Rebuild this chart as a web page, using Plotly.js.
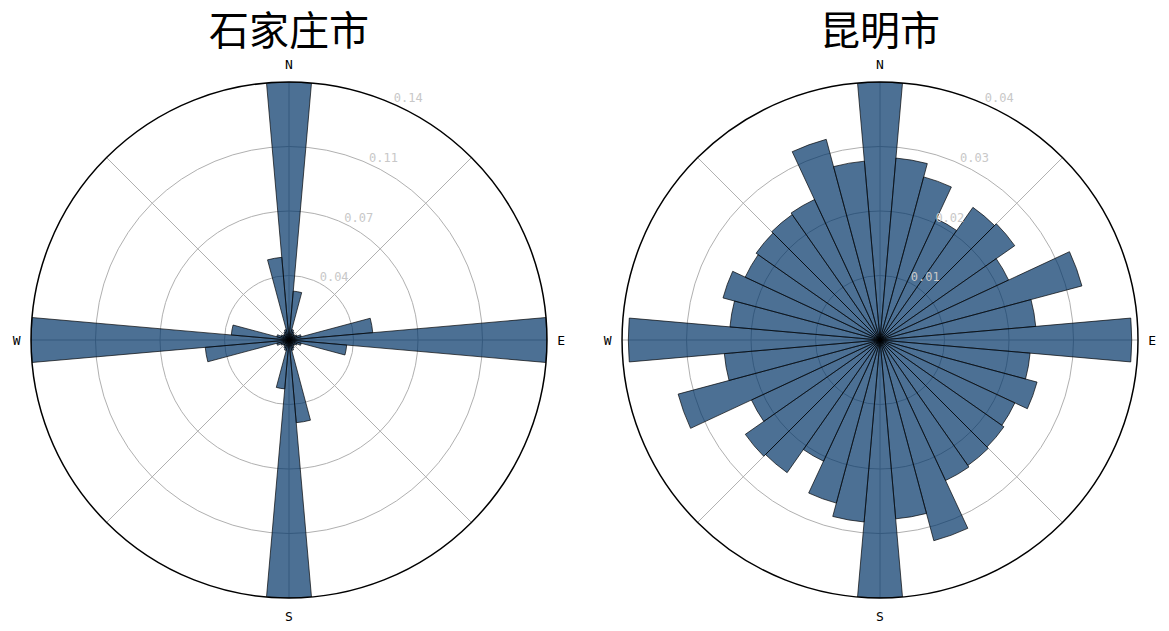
<!DOCTYPE html>
<html>
<head>
<meta charset="utf-8">
<script src="https://cdn.plot.ly/plotly-3.0.1.min.js"></script>
<style>html,body{margin:0;padding:0;background:#fff;}#chart{width:1169px;height:631px;}</style>
</head>
<body>
<div id="chart"></div>
<script>
// Bin centres (degrees, compass bearings)
const bearings = [0,10,20,30,40,50,60,70,80,90,100,110,120,130,140,150,160,170,
                  180,190,200,210,220,230,240,250,260,270,280,290,300,310,320,330,340,350];

// 石家庄市 street-orientation frequencies
const shijiazhuang = [0.143,0.0272,0.006,0.005,0.004,0.004,0.005,0.007,0.0466,
                      0.143,0.0321,0.007,0.005,0.004,0.004,0.005,0.006,0.046,
                      0.143,0.0272,0.006,0.005,0.004,0.004,0.005,0.007,0.0466,
                      0.143,0.0321,0.007,0.005,0.004,0.004,0.005,0.006,0.046];

// 昆明市 street-orientation frequencies
const kunming = [0.0411,0.0291,0.0269,0.0213,0.0258,0.0262,0.0226,0.0333,0.0249,
                 0.0401,0.0240,0.0259,0.0237,0.0241,0.0244,0.0247,0.0331,0.0286,
                 0.0411,0.0291,0.0269,0.0213,0.0258,0.0262,0.0226,0.0333,0.0249,
                 0.0401,0.0240,0.0259,0.0237,0.0241,0.0244,0.0247,0.0331,0.0286];

const cityNames = ['石家庄市', '昆明市'];
const compassVals = [0,45,90,135,180,225,270,315];
const compassText = ['N','','E','','S','','W',''];

function radialTicks(vals) {
  const mx = Math.max(...vals);
  const tv = [1,2,3,4].map(k => mx * k / 4);
  // trailing blank line lifts each label slightly above its ring
  return {max: mx, tv: tv, tt: tv.map(v => v.toFixed(2) + '<br>\u00a0')};
}

function polarLayout(vals, domX) {
  const t = radialTicks(vals);
  return {
    domain: {x: domX, y: [0.0523, 0.8700]},
    bgcolor: '#ffffff',
    hole: 0,
    radialaxis: {
      range: [0, t.max],
      tickvals: t.tv,
      ticktext: t.tt,
      angle: 67.5,
      tickangle: 67.5,
      side: 'clockwise',
      showline: false,
      ticks: '',
      gridcolor: '#b0b0b0',
      gridwidth: 1,
      tickfont: {family: 'DejaVu Sans Mono', size: 12, color: '#c8c8c8'}
    },
    angularaxis: {
      rotation: 90,
      direction: 'clockwise',
      tickmode: 'array',
      tickvals: compassVals,
      ticktext: compassText,
      ticks: 'outside',
      ticklen: 7,
      tickcolor: 'rgba(0,0,0,0)',
      showline: true,
      linecolor: '#000000',
      linewidth: 1.5,
      gridcolor: '#b0b0b0',
      gridwidth: 1,
      tickfont: {family: 'DejaVu Sans Mono', size: 13, color: '#000000'}
    }
  };
}

function barTrace(vals, sub) {
  return {
    type: 'barpolar',
    theta: bearings,
    r: vals,
    width: 10,
    subplot: sub,
    marker: {color: 'rgba(0,51,102,0.7)', line: {color: 'rgba(0,0,0,0.85)', width: 0.8}},
    hoverinfo: 'r+theta'
  };
}

const data = [barTrace(shijiazhuang, 'polar'), barTrace(kunming, 'polar2')];

const layout = {
  width: 1169, height: 631,
  margin: {l: 0, r: 0, t: 0, b: 0},
  paper_bgcolor: '#ffffff',
  showlegend: false,
  polar: polarLayout(shijiazhuang, [0.02652, 0.46792]),
  polar2: polarLayout(kunming, [0.5321, 0.9735]),
  annotations: [
    {text: cityNames[0], x: 0.2472, y: 0.955, xref: 'paper', yref: 'paper', showarrow: false,
     xanchor: 'center', yanchor: 'middle', font: {family: 'Noto Sans CJK SC', size: 40, color: '#000'}},
    {text: cityNames[1], x: 0.7528, y: 0.955, xref: 'paper', yref: 'paper', showarrow: false,
     xanchor: 'center', yanchor: 'middle', font: {family: 'Noto Sans CJK SC', size: 40, color: '#000'}}
  ]
};

Plotly.newPlot('chart', data, layout, {displayModeBar: false, staticPlot: true});
</script>
</body>
</html>
